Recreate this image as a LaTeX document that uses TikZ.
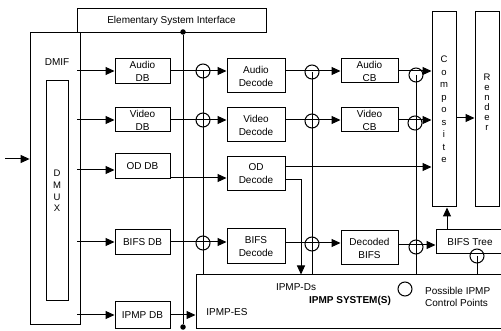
\documentclass[tikz,border=0pt]{standalone}
\usepackage{fontspec}
\setmainfont{Liberation Sans}
\usetikzlibrary{arrows.meta}
\begin{document}
\begin{tikzpicture}[x=1pt,y=-1pt,
  box/.style={draw, line width=1pt, inner sep=0pt, align=center, font=\fontsize{10}{13}\selectfont},
  ln/.style={line width=1pt},
  arr/.style={line width=1pt, -{Triangle[length=9pt,width=8pt]}},
  cp/.style={draw, circle, line width=1pt, minimum size=14pt, inner sep=0pt},
  dot/.style={fill, circle, minimum size=5.5pt, inner sep=0pt},
  txt/.style={inner sep=0pt, font=\fontsize{10}{12}\selectfont}
]
\useasboundingbox (0,0) rectangle (501,331);
% boxes
\node[box, minimum width=189, minimum height=24] (esi) at (171.5,21) {Elementary System Interface};
\node[box, line width=0.8pt, minimum width=50, minimum height=292] (dmif) at (55,178) {};
\node[txt] (dmifl) at (57,62) {DMIF};
\node[box, minimum width=22, minimum height=220, font=\fontsize{9.5}{11.7}\selectfont] (dmux) at (57,191) {D\\M\\U\\X};

\node[box, minimum width=55, minimum height=25] (adb) at (142.5,71) {Audio\\DB};
\node[box, minimum width=55, minimum height=24] (vdb) at (142.5,120) {Video\\DB};
\node[box, minimum width=55, minimum height=25] (oddb) at (142.5,166.5) {OD DB};
\node[box, minimum width=55, minimum height=25] (bdb) at (142.5,242) {BIFS DB};
\node[box, minimum width=55, minimum height=26] (idb) at (142.5,315) {IPMP DB};

\node[box, minimum width=58, minimum height=34] (ad) at (256,76) {Audio\\Decode};
\node[box, minimum width=58, minimum height=34] (vd) at (256,125) {Video\\Decode};
\node[box, minimum width=58, minimum height=34] (odd) at (256,174) {OD\\Decode};
\node[box, minimum width=58, minimum height=35] (bd) at (256,246.5) {BIFS\\Decode};

\node[box, minimum width=57, minimum height=24] (acb) at (369.5,71) {Audio\\CB};
\node[box, minimum width=57, minimum height=24] (vcb) at (369.5,120) {Video\\CB};
\node[box, minimum width=57, minimum height=34] (dbifs) at (369.5,248) {Decoded\\BIFS};

\node[box, minimum width=24, minimum height=195, font=\fontsize{9.5}{12.5}\selectfont] (comp) at (444,109.5) {C\\o\\m\\p\\o\\s\\i\\t\\e};
\node[box, minimum width=24, minimum height=195] (rend) at (487,109.5) {};
\node[txt, align=center, font=\fontsize{9.5}{10}\selectfont] (rendl) at (487,102) {R\\e\\n\\d\\e\\r};

\node[box, minimum width=68, minimum height=24] (btree) at (470,242) {BIFS Tree};
\node[box, minimum width=309, minimum height=53] (ipmp) at (350.5,301.5) {};

% control points
\node[cp] (c1) at (203,71) {};
\node[cp] (c2) at (203,120) {};
\node[cp] (c3) at (203,243) {};
\node[cp] (c4) at (312,72) {};
\node[cp] (c5) at (312,121) {};
\node[cp] (c6) at (312,244) {};
\node[cp] (c7) at (416,75) {};
\node[cp] (c8) at (415,123) {};
\node[cp] (c9) at (416,247) {};
\node[cp] (c10) at (477,256) {};
\node[cp] (leg) at (405,289) {};

\node[dot] (d1) at (183,32) {};
\node[dot] (d2) at (183,327) {};

% input
\coordinate (src) at (5,159);
\draw[arr] (src) -- (src -| dmif.west);
\coordinate (dm) at (77,0);
\draw[arr] (dm |- adb.west) -- (adb.west);
\draw[arr] (dm |- vdb.west) -- (vdb.west);
\coordinate (odin) at ([yshift=-3.5pt]oddb.west);
\draw[arr] (dm |- odin) -- (odin);
\draw[arr] (dm |- bdb.west) -- (bdb.west);
\draw[arr] (dm |- idb.west) -- (idb.west);

% DB -> decoders
\draw[arr] (adb.east) -- (adb.east -| ad.west);
\draw[arr] (vdb.east) -- (vdb.east -| vd.west);
\coordinate (odout) at ([yshift=-11.5pt]oddb.east);
\draw[arr] (odout) -- (odout -| odd.west);
\draw[arr] (bdb.east) -- (bdb.east -| bd.west);

% decoders -> CB
\draw[arr] (ad.east |- acb.west) -- (acb.west);
\draw[arr] (vd.east |- vcb.west) -- (vcb.west);
\coordinate (bdo) at (bd.east |- c3);
\draw[arr] (bdo) -- (bdo -| dbifs.west);

% CB -> composite
\draw[arr] (acb.east) -- (acb.east -| comp.west);
\draw[arr] (vcb.east) -- (vcb.east -| comp.west);
\coordinate (bt) at ([yshift=-3pt]btree.west);
\draw[arr] (bt -| dbifs.east) -- (bt);

% OD decode outputs
\coordinate (odo1) at ([yshift=7pt]odd.east);
\draw[arr] (odo1) -- (odo1 -| comp.west);
\coordinate (odo2) at ([yshift=-6pt]odd.east);
\coordinate (dsx) at (301,0);
\draw[arr] (odo2) -| (dsx |- ipmp.north);

% composite -> render, tree -> composite
\coordinate (cr) at ([yshift=-8.5pt]comp.east);
\draw[arr] (cr) -- (cr -| rend.west);
\coordinate (btu) at ([xshift=-23pt]btree.north);
\draw[arr] (btu) -- (btu |- comp.south);

% vertical control lines
\draw[ln] (d1) -- (d2);
\draw[ln] (c1.center) -- (c1 |- ipmp.north);
\draw[ln] (c4.center) -- (c4 |- ipmp.north);
\draw[ln] (c7.center) -- (c7 |- ipmp.north);
\draw[ln] (c10.center) -- (c10 |- ipmp.north);

% IPMP DB -> IPMP system
\draw[arr] (idb.east) -- (idb.east -| ipmp.west);

% texts
\node[txt] (ies) at (227,312) {IPMP-ES};
\node[txt] (ids) at (296,287) {IPMP-Ds};
\node[txt, font=\fontsize{10}{12}\selectfont\bfseries] (isys) at (350,301) {IPMP SYSTEM(S)};
\node[txt, anchor=west, align=left] (legt) at (425,297) {Possible IPMP\\Control Points};
\end{tikzpicture}
\end{document}
